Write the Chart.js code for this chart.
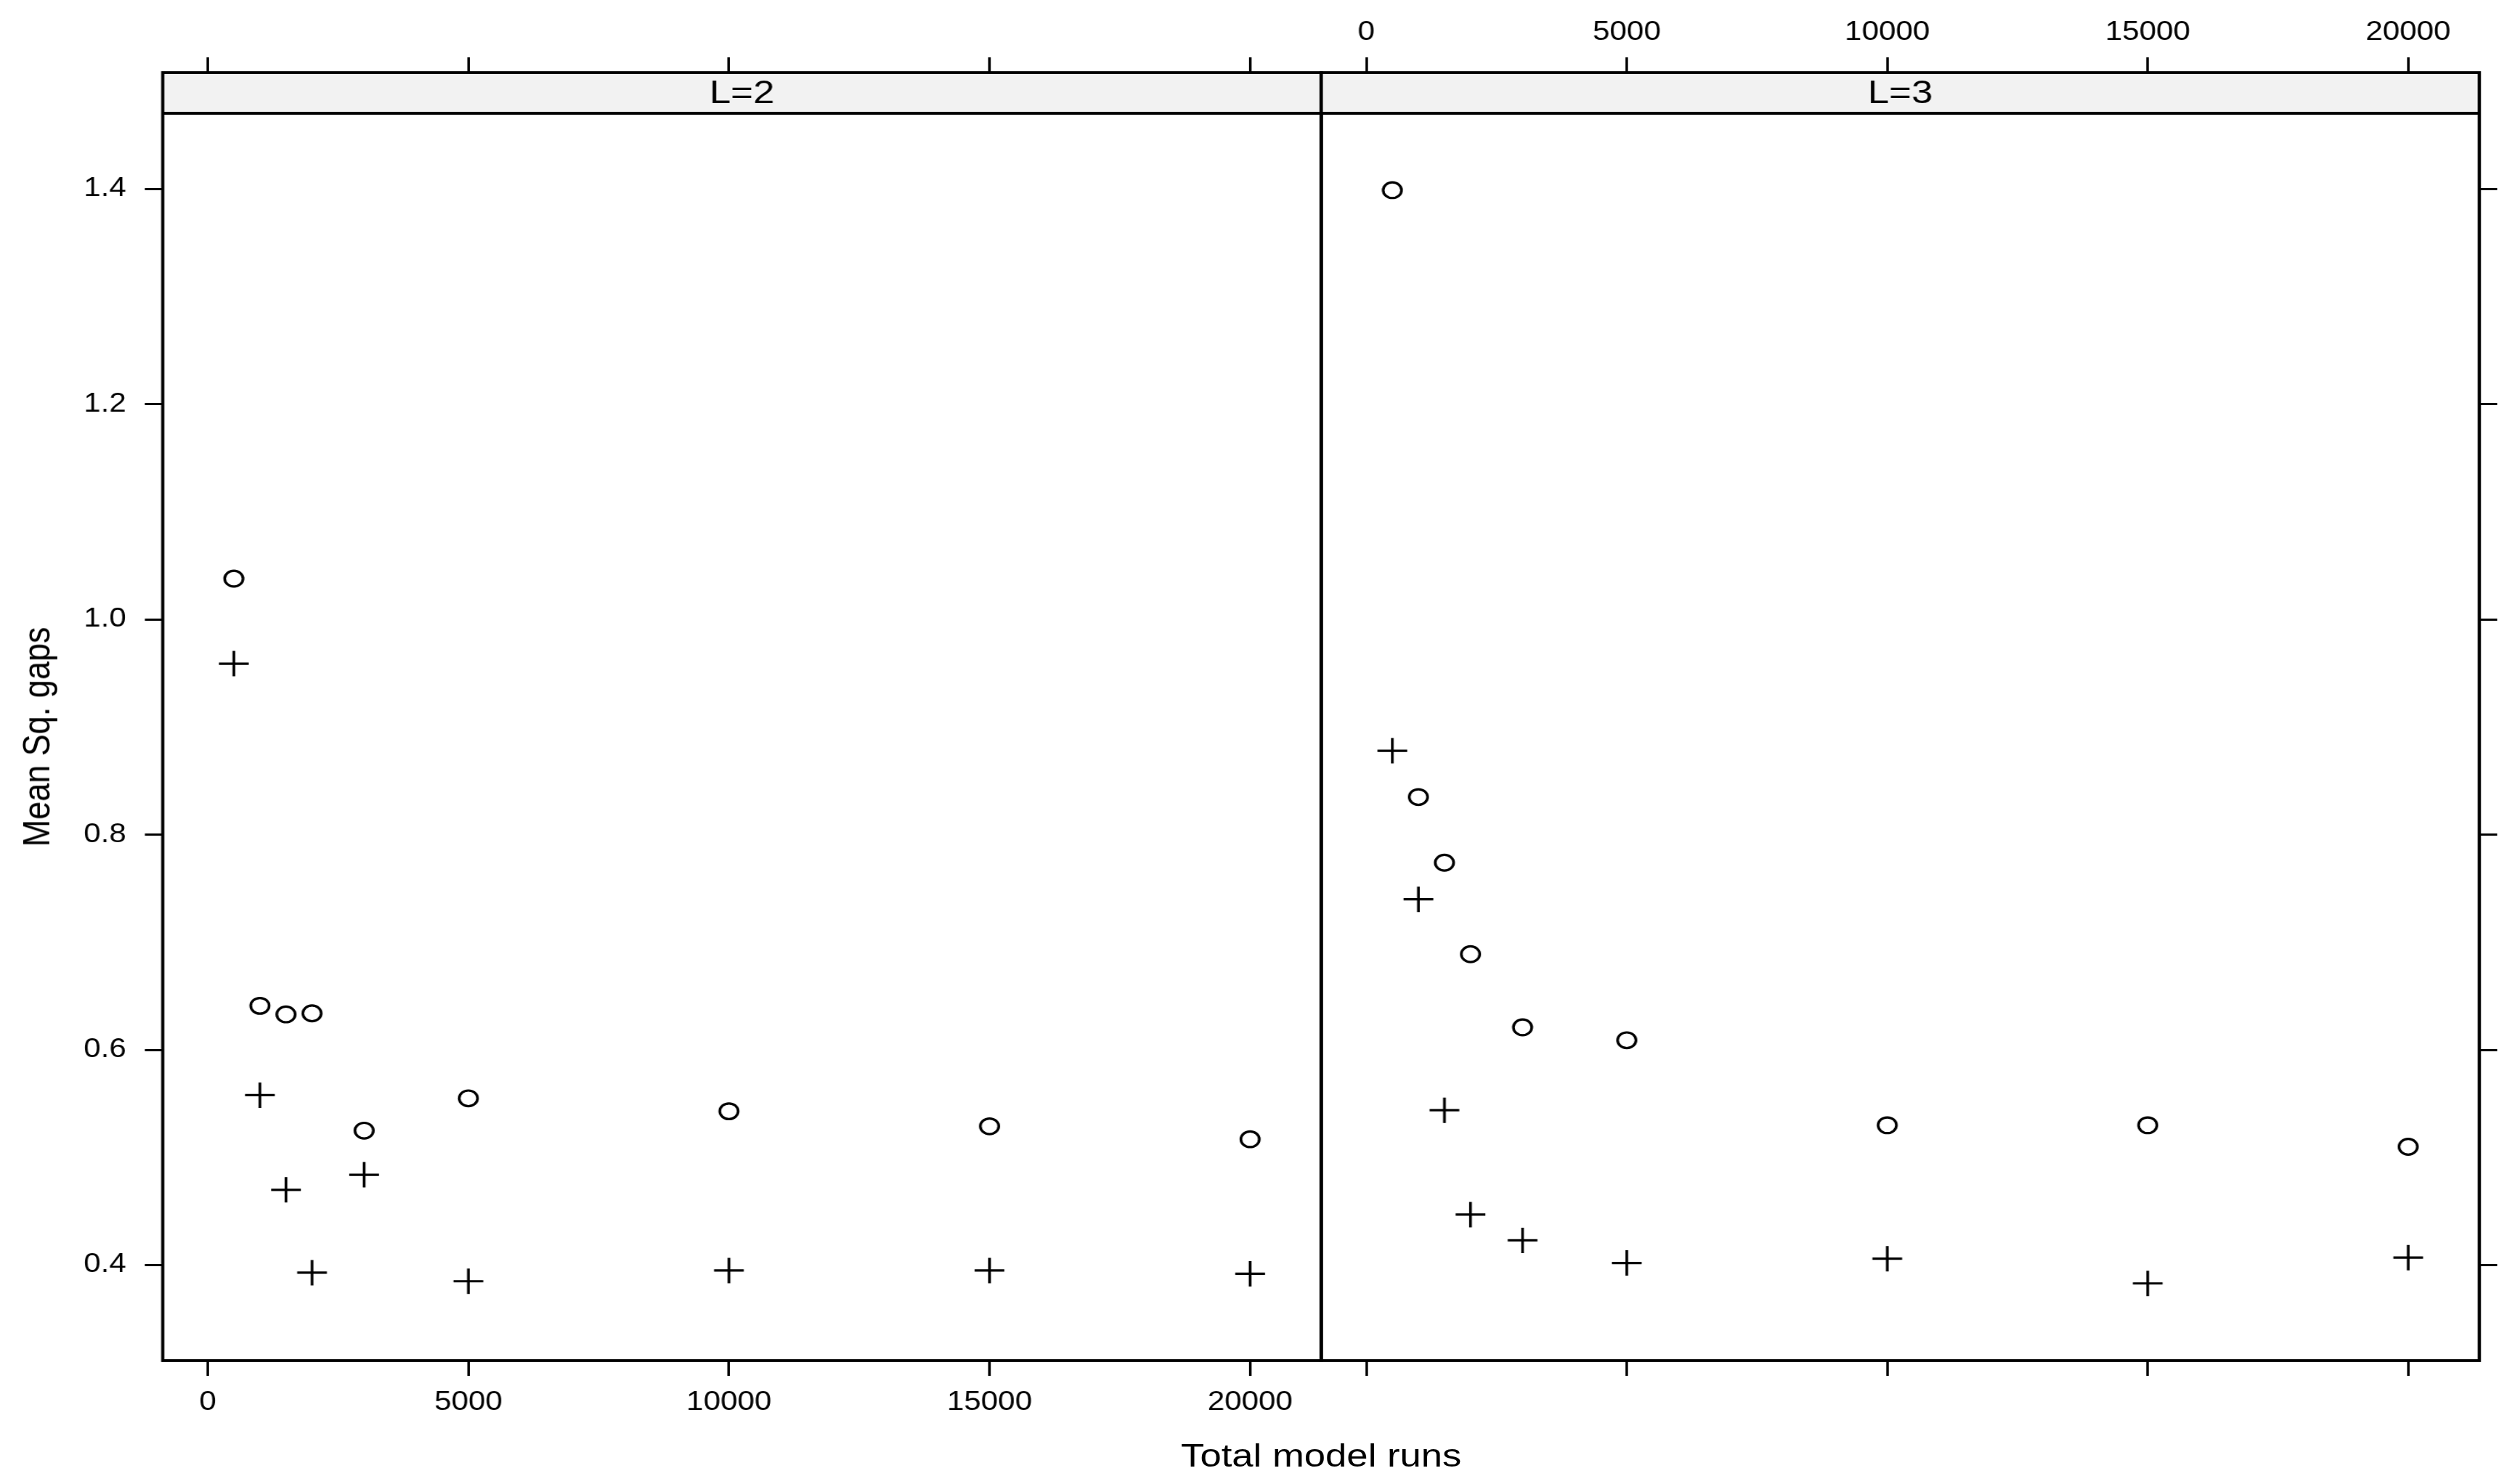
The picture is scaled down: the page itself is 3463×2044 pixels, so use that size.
<!DOCTYPE html>
<html>
<head>
<meta charset="utf-8">
<script src="https://cdn.jsdelivr.net/npm/chart.js@4.4.1/dist/chart.umd.min.js"></script>
<style>
  html, body { margin: 0; padding: 0; background: #fff; overflow: hidden; }
  /* the reference is stretched sideways, so draw narrow and widen it */
  #stage { position: absolute; left: 0; top: 0; width: 2960px; height: 2044px;
           transform: scaleX(1.16993); transform-origin: 0 0; }
  canvas { position: absolute; left: 0; top: 0; }
  .title { position: absolute; font-family: "Liberation Sans", Arial, sans-serif;
           font-size: 45px; color: #000; white-space: nowrap; }
  #xTitle { left: 1555px; top: 2005px; transform: translate(-50%, -50%); }
  #yTitle { left: 43px; top: 1015px; transform: translate(-50%, -50%) rotate(-90deg); }
</style>
</head>
<body>
<div id="stage">
  <canvas id="panelL2" width="2960" height="2044"></canvas>
  <canvas id="panelL3" width="2960" height="2044"></canvas>
  <div class="title" id="xTitle">Total model runs</div>
  <div class="title" id="yTitle">Mean Sq. gaps</div>
</div>
<script>
const totalRuns = [500, 1000, 1500, 2000, 3000, 5000, 10000, 15000, 20000];

// L=2 panel
const gapsL2Circle = [1.038, 0.641, 0.633, 0.634, 0.525, 0.555, 0.543, 0.529, 0.517];
const gapsL2Plus   = [0.959, 0.558, 0.470, 0.393, 0.484, 0.385, 0.395, 0.395, 0.392];

// L=3 panel
const gapsL3Circle = [1.399, 0.835, 0.774, 0.689, 0.621, 0.609, 0.530, 0.530, 0.510];
const gapsL3Plus   = [0.878, 0.740, 0.544, 0.447, 0.423, 0.402, 0.406, 0.383, 0.407];

const xTicks = [0, 5000, 10000, 15000, 20000];
const yTicks = [0.4, 0.6, 0.8, 1.0, 1.2, 1.4];
const panelLabels = ['L=2', 'L=3'];

// axis limits (data range padded like lattice does)
const xMin = -865, xMax = 21365;
const yMin = 0.3113, yTop = 1.4705;

// page layout, in the unstretched pixels of #stage
const W = 2960;
const boxLeft = 191.5, boxMid = 1555, boxRight = 2918;
const stripTop = 100, stripBottom = 156, boxBottom = 1874;
// strip lives inside the y range, just above the data
const yMax = yTop + (stripBottom - stripTop) / (boxBottom - stripBottom) * (yTop - yMin);

Chart.defaults.font.family = '"Liberation Sans", Arial, sans-serif';
Chart.defaults.color = '#000';

function toPoints(vals) {
    return totalRuns.map((x, i) => ({ x: x, y: vals[i] }));
}

// strip with the panel label, and the panel box
const panelBox = {
    id: 'panelBox',
    beforeDatasetsDraw(chart, args, opts) {
        const { ctx, chartArea: a } = chart;
        const sb = chart.scales.y.getPixelForValue(yTop);
        ctx.save();
        ctx.fillStyle = '#f2f2f2';
        ctx.fillRect(a.left, a.top, a.right - a.left, sb - a.top);
        ctx.fillStyle = '#000';
        ctx.font = '45px "Liberation Sans", Arial, sans-serif';
        ctx.textAlign = 'center';
        ctx.textBaseline = 'middle';
        ctx.fillText(opts.text, (a.left + a.right) / 2, (a.top + sb) / 2 + 2);
        ctx.restore();
    },
    afterDraw(chart) {
        const { ctx, chartArea: a } = chart;
        const sb = chart.scales.y.getPixelForValue(yTop);
        ctx.save();
        ctx.strokeStyle = '#000';
        ctx.lineWidth = 3.8;
        ctx.strokeRect(a.left, a.top, a.right - a.left, a.bottom - a.top);
        ctx.beginPath();
        ctx.moveTo(a.left, sb);
        ctx.lineTo(a.right, sb);
        ctx.stroke();
        ctx.restore();
    }
};

function makePanel(canvasId, label, circleVals, plusVals, first) {
    const tickGrid = { drawOnChartArea: false, tickLength: 21, tickWidth: 3, tickColor: '#000' };
    new Chart(document.getElementById(canvasId), {
        type: 'scatter',
        data: {
            datasets: [
                {
                    data: toPoints(circleVals),
                    pointStyle: 'circle',
                    pointRadius: 10.8,
                    borderWidth: 3.2,
                    borderColor: '#000',
                    backgroundColor: 'rgba(0,0,0,0)'
                },
                {
                    data: toPoints(plusVals),
                    pointStyle: 'cross',
                    pointRadius: 17.5,
                    borderWidth: 3.2,
                    borderColor: '#000'
                }
            ]
        },
        options: {
            responsive: false,
            animation: false,
            events: [],
            layout: {
                padding: first
                    ? { left: 0, right: W - boxMid, top: 0, bottom: 0 }
                    : { left: boxMid, right: 0, top: 0, bottom: 0 }
            },
            plugins: {
                legend: { display: false },
                tooltip: { enabled: false },
                panelBox: { text: label }
            },
            scales: {
                x: {
                    type: 'linear', position: 'bottom', min: xMin, max: xMax,
                    afterBuildTicks: s => { s.ticks = xTicks.map(v => ({ value: v })); },
                    afterFit: s => { s.height = 2044 - boxBottom; },
                    border: { display: false },
                    grid: tickGrid,
                    ticks: { display: first, padding: 15, maxRotation: 0, font: { size: 36 },
                             callback: v => String(v) }
                },
                xTop: {
                    axis: 'x', type: 'linear', position: 'top', min: xMin, max: xMax,
                    afterBuildTicks: s => { s.ticks = xTicks.map(v => ({ value: v })); },
                    afterFit: s => { s.height = stripTop; },
                    border: { display: false },
                    grid: tickGrid,
                    ticks: { display: !first, padding: 12, maxRotation: 0, font: { size: 36 },
                             callback: v => String(v) }
                },
                y: {
                    type: 'linear', position: first ? 'left' : 'right', min: yMin, max: yMax,
                    afterBuildTicks: s => { s.ticks = yTicks.map(v => ({ value: v })); },
                    afterFit: s => { s.width = first ? boxLeft : W - boxRight; },
                    border: { display: false },
                    grid: tickGrid,
                    ticks: { display: first, padding: 22, font: { size: 36 },
                             callback: v => v.toFixed(1) }
                }
            }
        },
        plugins: [panelBox]
    });
}

makePanel('panelL2', panelLabels[0], gapsL2Circle, gapsL2Plus, true);
makePanel('panelL3', panelLabels[1], gapsL3Circle, gapsL3Plus, false);
</script>
</body>
</html>
